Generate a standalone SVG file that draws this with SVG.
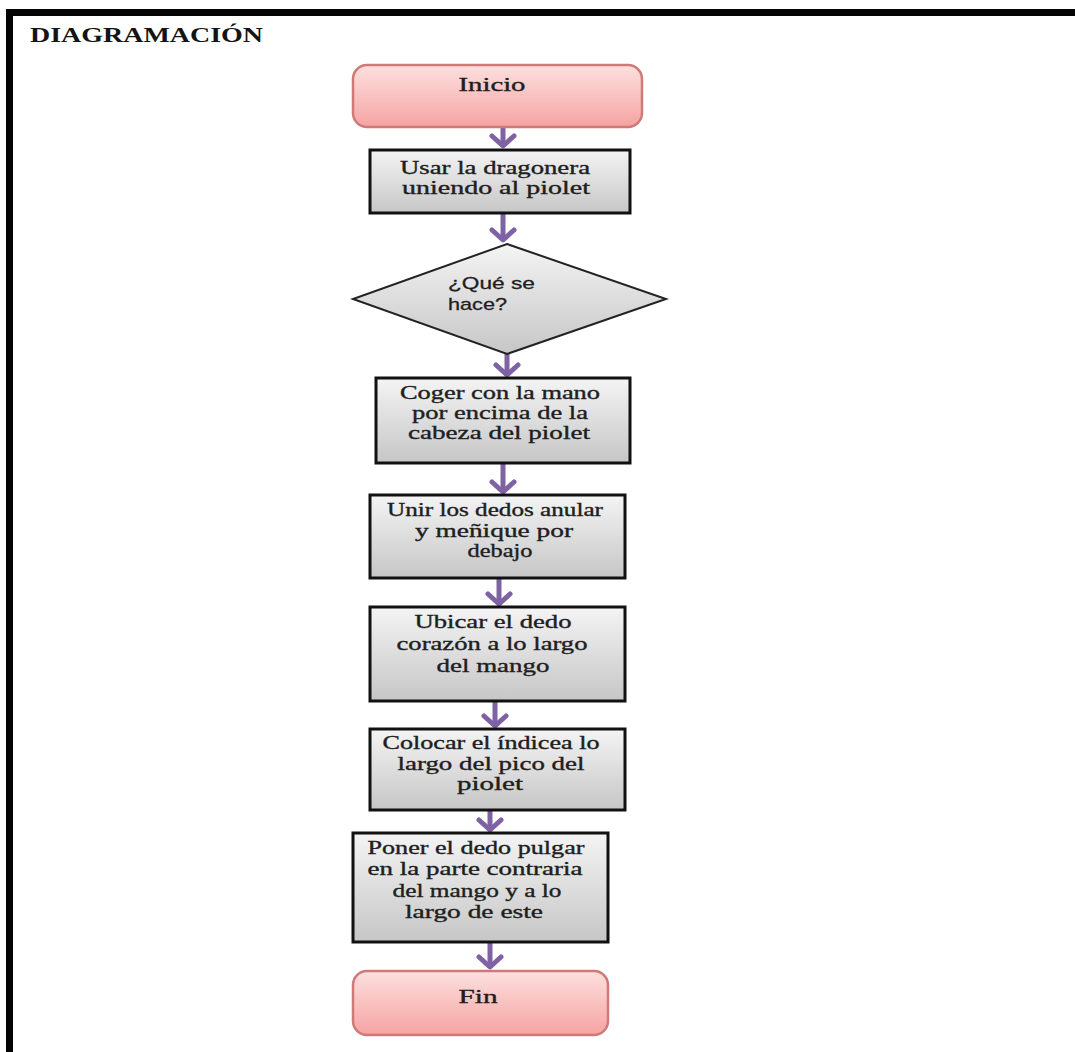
<svg xmlns="http://www.w3.org/2000/svg" width="1075" height="1052" viewBox="0 0 1075 1052">
<defs>
<linearGradient id="gGray" x1="0" y1="0" x2="0" y2="1">
<stop offset="0" stop-color="#f4f4f4"/>
<stop offset="1" stop-color="#c6c6c6"/>
</linearGradient>
<linearGradient id="gPink" x1="0" y1="0" x2="0" y2="1">
<stop offset="0" stop-color="#fde0df"/>
<stop offset="1" stop-color="#f5a3a2"/>
</linearGradient>
<marker id="arr" viewBox="0 0 16 28" refX="14" refY="14" markerWidth="16" markerHeight="28" markerUnits="userSpaceOnUse" orient="auto">
<path d="M3,3 L13,14 L3,25" fill="none" stroke="#7f62a3" stroke-width="5" stroke-linecap="round" stroke-linejoin="round"/>
</marker>
</defs>
<style>
.box{fill:url(#gGray);stroke:#111;stroke-width:3}
.dia{fill:url(#gGray);stroke:#222;stroke-width:2}
.term{fill:url(#gPink);stroke:#d07a78;stroke-width:2.5}
.t{font-family:"Liberation Serif","Times New Roman",serif;font-size:18px;fill:#1e1e1e;stroke:#1e1e1e;stroke-width:0.35;text-anchor:middle}
.ts{font-family:"Liberation Sans",Arial,sans-serif;font-size:17px;fill:#1e1e1e;stroke:#1e1e1e;stroke-width:0.3}
.title{font-family:"Liberation Serif","Times New Roman",serif;font-size:20px;font-weight:bold;fill:#141414}
.c{stroke:#7f62a3;stroke-width:5;fill:none;marker-end:url(#arr)}
</style>
<rect x="0" y="0" width="1075" height="1052" fill="#ffffff"/>
<g id="frame">
<rect x="6" y="9" width="1069" height="7" fill="#050505"/>
<rect x="6" y="9" width="7" height="1043" fill="#050505"/>
</g>
<text class="title" x="30" y="42" textLength="233" lengthAdjust="spacingAndGlyphs">DIAGRAMACIÓN</text>
<g id="connectors">
<line class="c" x1="503" y1="127" x2="503" y2="147"/>
<line class="c" x1="503" y1="213" x2="503" y2="241"/>
<line class="c" x1="507" y1="354" x2="507" y2="376"/>
<line class="c" x1="503" y1="463" x2="503" y2="493"/>
<line class="c" x1="499" y1="578" x2="499" y2="605"/>
<line class="c" x1="495" y1="701" x2="495" y2="727"/>
<line class="c" x1="490" y1="810" x2="490" y2="831"/>
<line class="c" x1="490" y1="942" x2="490" y2="968"/>
</g>
<g id="inicio">
<rect class="term" x="353" y="65" width="289" height="62" rx="14"/>
<text class="t" x="492" y="91" textLength="67" lengthAdjust="spacingAndGlyphs">Inicio</text>
</g>
<g id="paso1">
<rect class="box" x="370" y="150" width="260" height="63"/>
<text class="t" x="495" y="174" textLength="190" lengthAdjust="spacingAndGlyphs">Usar la dragonera</text>
<text class="t" x="496" y="194" textLength="188" lengthAdjust="spacingAndGlyphs">uniendo al piolet</text>
</g>
<g id="decision">
<polygon class="dia" points="507,244 666,299 507,354 353,299"/>
<text class="ts" x="448" y="289" textLength="87" lengthAdjust="spacingAndGlyphs">¿Qué se</text>
<text class="ts" x="448" y="310" textLength="59" lengthAdjust="spacingAndGlyphs">hace?</text>
</g>
<g id="paso2">
<rect class="box" x="376" y="378" width="254" height="85"/>
<text class="t" x="500" y="399" textLength="200" lengthAdjust="spacingAndGlyphs">Coger con la mano</text>
<text class="t" x="500" y="419" textLength="176" lengthAdjust="spacingAndGlyphs">por encima de la</text>
<text class="t" x="499" y="439" textLength="182" lengthAdjust="spacingAndGlyphs">cabeza del piolet</text>
</g>
<g id="paso3">
<rect class="box" x="370" y="495" width="255" height="83"/>
<text class="t" x="495" y="516" textLength="216" lengthAdjust="spacingAndGlyphs">Unir los dedos anular</text>
<text class="t" x="494" y="537" textLength="158" lengthAdjust="spacingAndGlyphs">y meñique por</text>
<text class="t" x="500" y="557" textLength="65" lengthAdjust="spacingAndGlyphs">debajo</text>
</g>
<g id="paso4">
<rect class="box" x="370" y="607" width="255" height="94"/>
<text class="t" x="493" y="628" textLength="157" lengthAdjust="spacingAndGlyphs">Ubicar el dedo</text>
<text class="t" x="492" y="650" textLength="191" lengthAdjust="spacingAndGlyphs">corazón a lo largo</text>
<text class="t" x="493" y="672" textLength="113" lengthAdjust="spacingAndGlyphs">del mango</text>
</g>
<g id="paso5">
<rect class="box" x="370" y="729" width="255" height="81"/>
<text class="t" x="491" y="749" textLength="217" lengthAdjust="spacingAndGlyphs">Colocar el índicea lo</text>
<text class="t" x="491" y="770" textLength="187" lengthAdjust="spacingAndGlyphs">largo del pico del</text>
<text class="t" x="490" y="790" textLength="66" lengthAdjust="spacingAndGlyphs">piolet</text>
</g>
<g id="paso6">
<rect class="box" x="353" y="833" width="255" height="109"/>
<text class="t" x="476" y="854" textLength="217" lengthAdjust="spacingAndGlyphs">Poner el dedo pulgar</text>
<text class="t" x="475" y="875" textLength="215" lengthAdjust="spacingAndGlyphs">en la parte contraria</text>
<text class="t" x="477" y="897" textLength="169" lengthAdjust="spacingAndGlyphs">del mango y a lo</text>
<text class="t" x="474" y="918" textLength="138" lengthAdjust="spacingAndGlyphs">largo de este</text>
</g>
<g id="fin">
<rect class="term" x="353" y="971" width="255" height="64" rx="14"/>
<text class="t" x="478" y="1003" textLength="39" lengthAdjust="spacingAndGlyphs">Fin</text>
</g>
</svg>
